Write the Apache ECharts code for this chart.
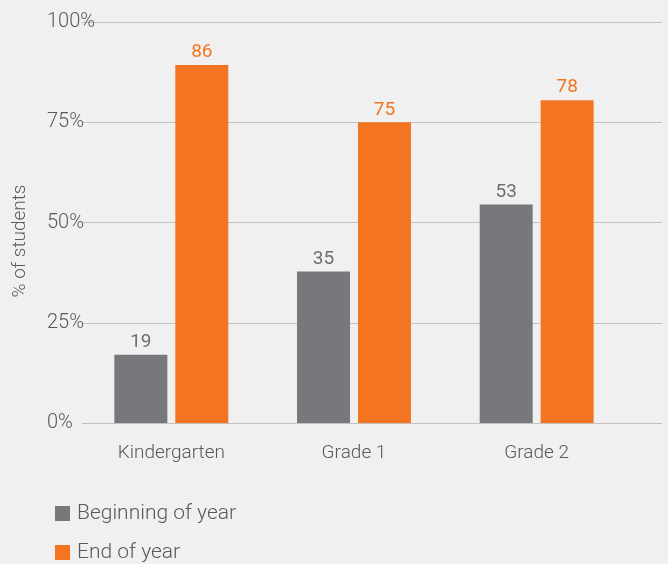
<!DOCTYPE html>
<html>
<head>
<meta charset="utf-8">
<script src="https://cdn.jsdelivr.net/npm/echarts@6/dist/echarts.min.js"></script>
<style>
  html, body { margin: 0; padding: 0; background: #f0f0f0; }
  #chart { width: 668px; height: 564px; }
</style>
</head>
<body>
<div id="chart"></div>
<script>
// data
var grades = ["Kindergarten", "Grade 1", "Grade 2"];
var beginValues = [17, 37.75, 54.5];
var endValues = [89.25, 75, 80.5];
// printed labels (differ slightly from the bar heights in the original)
var beginLabels = ["19", "35", "53"];
var endLabels = ["86", "75", "78"];
var seriesNames = ["Beginning of year", "End of year"];
var yTicks = [0, 25, 50, 75, 100];

var GRAY = "#77787b";
var ORANGE = "#f47521";
var TEXT = "#58595b";
var FONT = "Roboto";

// one legend per row, stacked
function legendRow(name, top) {
  return {
    left: 50,
    top: top,
    itemWidth: 15,
    itemHeight: 15,
    icon: "rect",
    textStyle: { color: TEXT, fontSize: 21, fontWeight: 300, padding: [0, 0, 0, 2] },
    data: [name]
  };
}

var chart = echarts.init(document.getElementById("chart"));

chart.setOption({
  backgroundColor: "#f0f0f0",
  animation: false,
  textStyle: { fontFamily: FONT },
  grid: [
    // grid for the gridlines / y labels (runs wider than the bars)
    { left: 82, right: 6, top: 22, bottom: 141 },
    // grid for the bars
    { left: 80, width: 548, top: 22, bottom: 141 }
  ],
  xAxis: [
    { gridIndex: 0, type: "value", show: false },
    {
      gridIndex: 1,
      type: "category",
      data: grades,
      axisLine: { show: false },
      axisTick: { show: false },
      axisLabel: { color: TEXT, fontSize: 19, fontWeight: 300, margin: 21 }
    }
  ],
  yAxis: [
    {
      gridIndex: 0,
      type: "value",
      min: yTicks[0],
      max: yTicks[yTicks.length - 1],
      interval: 25,
      axisLine: { show: false },
      axisTick: { show: false },
      splitLine: { lineStyle: { color: "#c2c2c2", width: 1 } },
      axisLabel: {
        color: TEXT,
        fontSize: 20,
        fontWeight: 300,
        align: "left",
        margin: 35,
        formatter: "{value}%"
      }
    },
    { gridIndex: 1, type: "value", min: 0, max: 100, show: false }
  ],
  legend: [legendRow(seriesNames[0], 498), legendRow(seriesNames[1], 537)],
  graphic: [
    {
      type: "text",
      x: 20,
      y: 241,
      rotation: Math.PI / 2,
      style: {
        text: "% of students",
        fill: TEXT,
        font: "300 19px " + FONT,
        textAlign: "center",
        textVerticalAlign: "middle"
      }
    }
  ],
  series: [
    {
      name: seriesNames[0],
      type: "bar",
      xAxisIndex: 1,
      yAxisIndex: 1,
      data: beginValues,
      barWidth: 53,
      barGap: "15%",
      itemStyle: { color: GRAY },
      label: {
        show: true,
        position: "top",
        distance: 3,
        color: "#6d6e71",
        fontSize: 19,
        fontWeight: 400,
        formatter: function (p) { return beginLabels[p.dataIndex]; }
      }
    },
    {
      name: seriesNames[1],
      type: "bar",
      xAxisIndex: 1,
      yAxisIndex: 1,
      data: endValues,
      barWidth: 53,
      barGap: "15%",
      itemStyle: { color: ORANGE },
      label: {
        show: true,
        position: "top",
        distance: 3,
        color: ORANGE,
        fontSize: 19,
        fontWeight: 400,
        formatter: function (p) { return endLabels[p.dataIndex]; }
      }
    }
  ]
});
</script>
</body>
</html>
